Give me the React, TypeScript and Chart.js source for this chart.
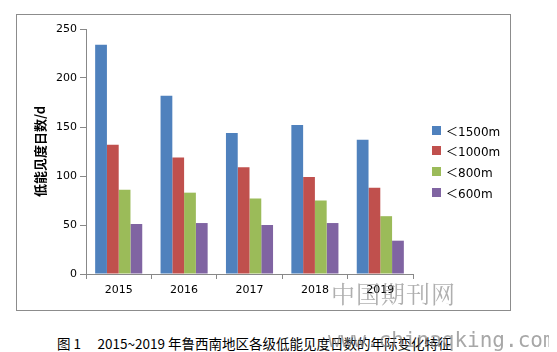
import React, { useEffect, useRef, useState } from "react";
import { Chart, registerables } from "chart.js";

Chart.register(...registerables);

const years = ["2015", "2016", "2017", "2018", "2019"];
const seriesNames = ["＜1500m", "＜1000m", "＜800m", "＜600m"];
const seriesColors = ["#4F81BD", "#C0504D", "#9BBB59", "#8064A2"];
const v1500 = [234, 182, 144, 152, 137];
const v1000 = [132, 119, 109, 99, 88];
const v800 = [86, 83, 77, 75, 59];
const v600 = [51, 52, 50, 52, 34];
const seriesValues = [v1500, v1000, v800, v600];
const yTitle = "低能见度日数/d";
const caption = "图 1　 2015~2019 年鲁西南地区各级低能见度日数的年际变化特征";

const tickFont = { family: "DejaVu Sans", size: 11 };

export default function App() {
  const ref = useRef<HTMLCanvasElement | null>(null);
  const [err, setErr] = useState("");
  useEffect(() => {
    if (!ref.current) return;
    let chart: any = null;
    try {
      chart = new Chart(ref.current, {
        type: "bar",
        data: {
          labels: years,
          datasets: seriesNames.map((n, i) => ({
            label: n,
            data: seriesValues[i],
            backgroundColor: seriesColors[i],
            borderWidth: 0,
            categoryPercentage: 0.72,
            barPercentage: 1,
          })),
        },
        options: {
          animation: false,
          responsive: false,
          maintainAspectRatio: false,
          layout: { padding: { left: 0, top: 14, right: 97, bottom: 0 } },
          plugins: { legend: { display: false }, tooltip: { enabled: false } },
          scales: {
            x: {
              grid: { drawOnChartArea: false, color: "#888", tickLength: 5 },
              border: { color: "#888" },
              ticks: { color: "#000", font: tickFont, padding: 5 },
              afterFit: (s: any) => { s.height = 36; },
            },
            y: {
              min: 0,
              max: 250,
              ticks: { stepSize: 50, color: "#000", font: tickFont, padding: 3 },
              grid: { drawOnChartArea: false, color: "#888", tickLength: 6 },
              border: { color: "#888" },
              title: {
                display: true,
                text: yTitle,
                color: "#000",
                font: { family: "Noto Sans CJK SC", size: 13, weight: "bold" },
                padding: { top: 15, bottom: 0 },
              },
              afterFit: (s: any) => { s.width = 69; },
            },
          },
        },
      });
    } catch (e: any) {
      setErr(String(e && e.stack ? e.stack : e));
    }
    return () => { if (chart) chart.destroy(); };
  }, []);

  return (
    <div style={{ position: "relative", width: 549, height: 344, overflow: "hidden" }}>
      <div
        style={{
          position: "absolute",
          left: 8,
          top: 6,
          width: 493,
          height: 295,
          border: "1px solid #8c8c8c",
        }}
      />
      <canvas
        ref={ref}
        width={493}
        height={295}
        style={{ position: "absolute", left: 9, top: 7, width: 493, height: 295 }}
      />
      {seriesNames.map((n, i) => (
        <div
          key={n}
          style={{
            position: "absolute",
            left: 424,
            top: 114 + i * 20.8,
            height: 16,
            display: "flex",
            alignItems: "center",
            fontFamily: "'DejaVu Sans', 'Noto Sans CJK SC'",
            fontSize: 12,
            color: "#000",
            whiteSpace: "nowrap",
          }}
        >
          <span style={{ display: "inline-block", width: 9, height: 9, background: seriesColors[i], marginRight: 5 }} />
          <span>{n}</span>
        </div>
      ))}
      <div
        style={{
          position: "absolute",
          left: 49,
          top: 326,
          fontFamily: "'Noto Sans CJK SC'",
          fontSize: 13.5,
          color: "#000",
          whiteSpace: "pre",
          lineHeight: "18px",
        }}
      >
        {caption}
      </div>
      <div
        style={{
          position: "absolute",
          left: 323,
          top: 270,
          fontFamily: "'Noto Serif CJK SC', 'Noto Sans CJK SC'",
          fontSize: 24,
          letterSpacing: 1,
          color: "rgba(110,110,110,0.55)",
          whiteSpace: "nowrap",
          lineHeight: "30px",
        }}
      >
        中国期刊网
      </div>
      <div
        style={{
          position: "absolute",
          left: 320,
          top: 319,
          fontFamily: "'DejaVu Sans Mono'",
          fontSize: 21,
          color: "rgba(120,120,120,0.65)",
          whiteSpace: "nowrap",
          lineHeight: "26px",
        }}
      >
        www.chinaqking.com
      </div>
      <div
        style={{
          position: "absolute",
          left: 541,
          top: -8,
          width: 8,
          height: 12,
          borderLeft: "1px solid #ccc",
          borderBottom: "1px solid #ccc",
        }}
      />
      {err ? (
        <pre style={{ position: "absolute", left: 0, top: 0, fontSize: 9, color: "red", whiteSpace: "pre-wrap", width: 540 }}>{err}</pre>
      ) : null}
    </div>
  );
}
